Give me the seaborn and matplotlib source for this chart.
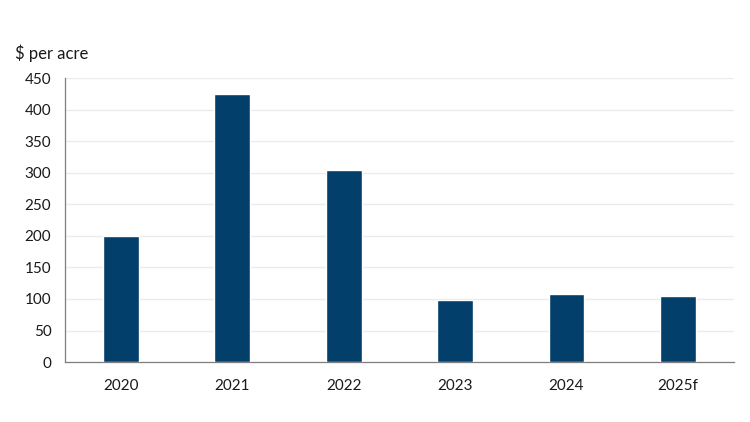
import pandas as pd
import matplotlib.pyplot as plt
import seaborn as sns

years = ["2020", "2021", "2022", "2023", "2024", "2025f"]
values = [199, 424, 305, 98, 108, 104]

df = pd.DataFrame({"year": years, "value": values})

sns.set_style("white")
plt.rcParams["font.family"] = ["Lato", "DejaVu Sans"]

fig = plt.figure(figsize=(7.5, 4.22), dpi=100)
ax = fig.add_axes([0.087, 0.142, 0.891, 0.673])

sns.barplot(data=df, x="year", y="value", color="#023f6b", width=0.32,
            saturation=1, ax=ax, zorder=3)

ax.set_ylim(0, 450)
ax.set_yticks(range(0, 451, 50))
ax.yaxis.grid(True, color="#ebebeb", linewidth=1, zorder=0)
ax.set_axisbelow(True)
ax.set_xlabel("")
ax.set_ylabel("")
ax.tick_params(axis="both", length=0, labelsize=11, colors="#1a1a1a")
ax.tick_params(axis="x", pad=12)
ax.tick_params(axis="y", pad=10)

for side in ["top", "right"]:
    ax.spines[side].set_visible(False)
for side in ["left", "bottom"]:
    ax.spines[side].set_color("#7f7f7f")
    ax.spines[side].set_linewidth(0.9)

fig.text(0.02, 0.875, "$ per acre", fontsize=12, color="#1a1a1a", va="center")

plt.savefig("out.png", dpi=100)
